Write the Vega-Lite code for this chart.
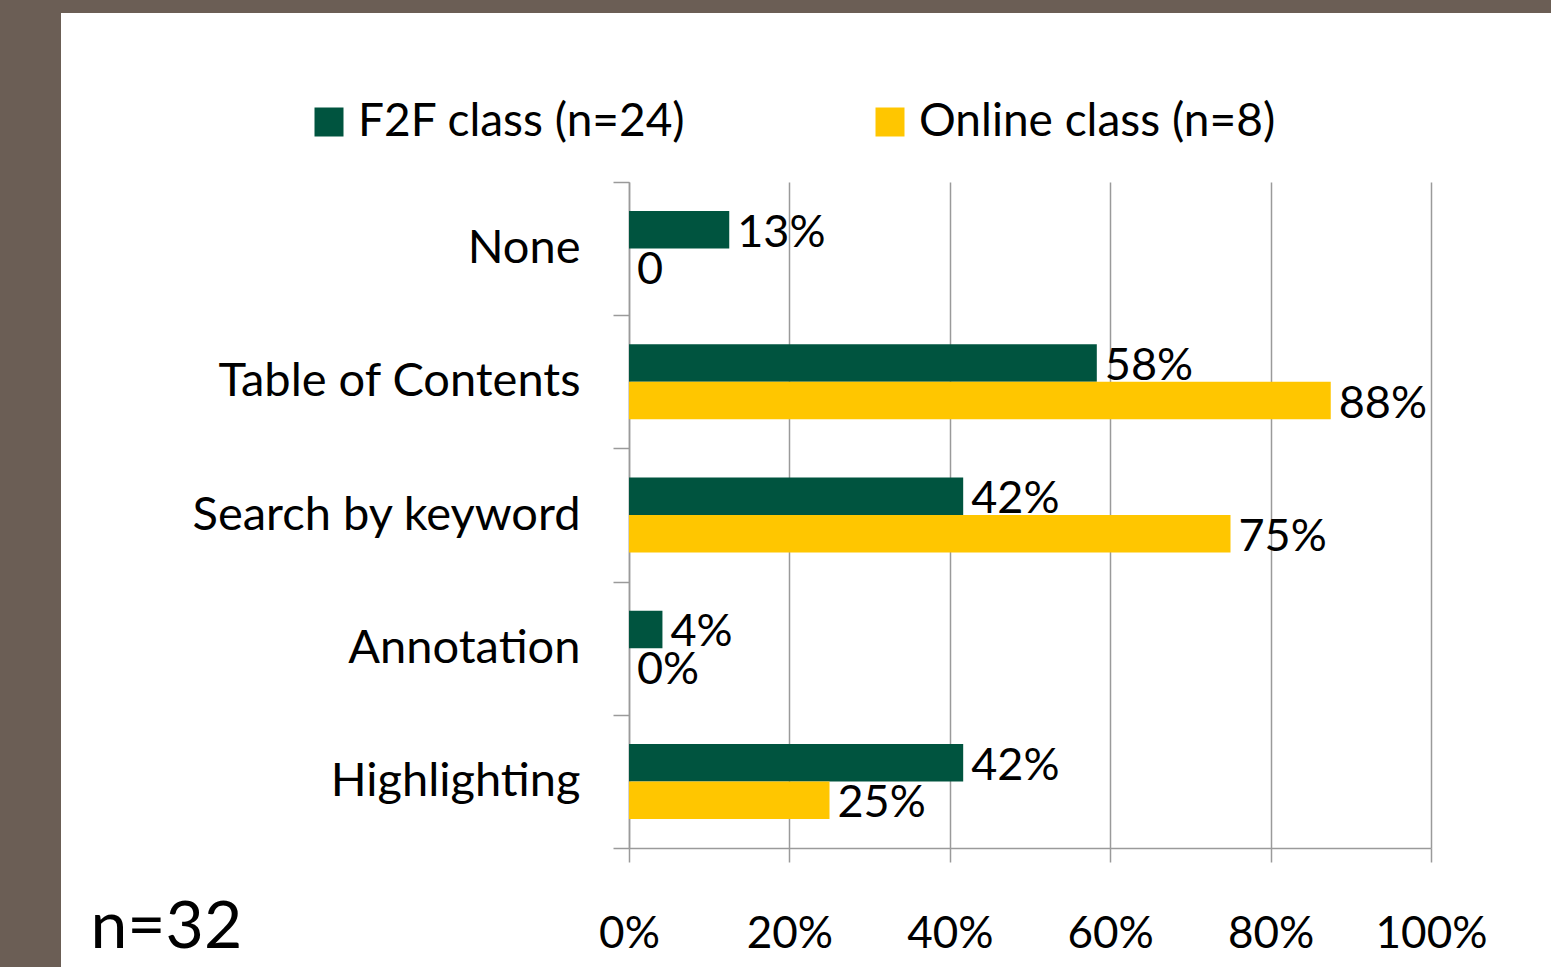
{
  "$schema": "https://vega.github.io/schema/vega-lite/v6.json",
  "autosize": {"type": "none"},
  "width": 1490,
  "height": 1004,
  "padding": {"left": 61, "top": 13, "right": 0, "bottom": -50},
  "background": "#6B5E55",
  "config": {
    "font": "Lato",
    "view": {"fill": "white", "stroke": null}
  },
  "data": {
    "values": [
      {"category": "None", "series": "F2F class (n=24)", "value": 0.125, "label": "13%"},
      {"category": "None", "series": "Online class (n=8)", "value": 0, "label": "0"},
      {"category": "Table of Contents", "series": "F2F class (n=24)", "value": 0.5833, "label": "58%"},
      {"category": "Table of Contents", "series": "Online class (n=8)", "value": 0.875, "label": "88%"},
      {"category": "Search by keyword", "series": "F2F class (n=24)", "value": 0.4167, "label": "42%"},
      {"category": "Search by keyword", "series": "Online class (n=8)", "value": 0.75, "label": "75%"},
      {"category": "Annotation", "series": "F2F class (n=24)", "value": 0.0417, "label": "4%"},
      {"category": "Annotation", "series": "Online class (n=8)", "value": 0, "label": "0%"},
      {"category": "Highlighting", "series": "F2F class (n=24)", "value": 0.4167, "label": "42%"},
      {"category": "Highlighting", "series": "Online class (n=8)", "value": 0.25, "label": "25%"}
    ]
  },
  "encoding": {
    "y": {
      "field": "category",
      "type": "nominal",
      "sort": ["None", "Table of Contents", "Search by keyword", "Annotation", "Highlighting"],
      "scale": {"range": [169, 835], "paddingInner": 0, "paddingOuter": 0},
      "axis": {
        "title": null,
        "offset": -568,
        "tickBand": "extent",
        "tickSize": 16,
        "tickColor": "#9A9A9A",
        "tickWidth": 1.5,
        "domainColor": "#9A9A9A",
        "domainWidth": 1.5,
        "labelFontSize": 47,
        "labelColor": "black",
        "labelPadding": 33,
        "labelLimit": 600,
        "grid": false
      }
    },
    "yOffset": {
      "field": "series",
      "type": "nominal",
      "sort": ["F2F class (n=24)", "Online class (n=8)"],
      "scale": {"paddingInner": 0, "paddingOuter": 0.776}
    },
    "x": {
      "field": "value",
      "type": "quantitative",
      "scale": {"domain": [0, 1], "range": [568, 1370], "nice": false, "zero": true},
      "axis": {
        "values": [0, 0.2, 0.4, 0.6, 0.8, 1],
        "format": ".0%",
        "offset": -169,
        "tickSize": 14,
        "tickColor": "#9A9A9A",
        "tickWidth": 1.5,
        "domainColor": "#9A9A9A",
        "domainWidth": 1.5,
        "grid": true,
        "gridColor": "#9A9A9A",
        "gridWidth": 1.5,
        "labelFontSize": 44,
        "labelColor": "black",
        "labelBaseline": "alphabetic",
        "labelPadding": 85,
        "labelFlush": false,
        "labelOverlap": false,
        "title": "n=32",
        "titleFontSize": 66,
        "titleFontWeight": "normal",
        "titleColor": "black",
        "titleX": 29,
        "titleY": 99,
        "titleAlign": "left",
        "titleBaseline": "alphabetic"
      }
    }
  },
  "layer": [
    {
      "mark": {"type": "bar"},
      "encoding": {
        "color": {
          "field": "series",
          "type": "nominal",
          "sort": ["F2F class (n=24)", "Online class (n=8)"],
          "scale": {"domain": ["F2F class (n=24)", "Online class (n=8)"], "range": ["#00543F", "#FFC600"]},
          "legend": {
            "title": null,
            "orient": "none",
            "legendX": 245,
            "legendY": 86,
            "direction": "horizontal",
            "symbolType": "square",
            "symbolSize": 841,
            "symbolStrokeWidth": 0,
            "labelFontSize": 46,
            "labelColor": "black",
            "labelOffset": 6,
            "labelLimit": 600,
            "columnPadding": 181
          }
        }
      }
    },
    {
      "mark": {"type": "text", "align": "left", "baseline": "middle", "dx": 8, "dy": 3, "fontSize": 45, "color": "black"},
      "encoding": {
        "text": {"field": "label"}
      }
    }
  ]
}
